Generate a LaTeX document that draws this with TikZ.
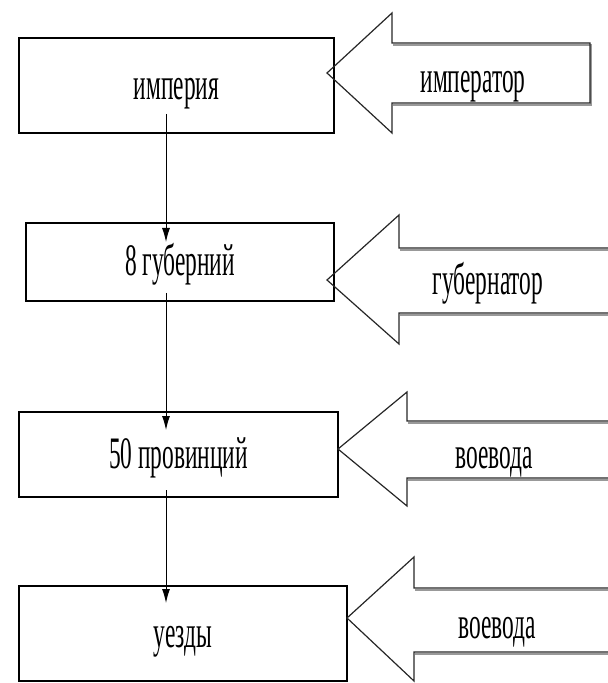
\documentclass[tikz,border=0pt]{standalone}
\usepackage{fontspec}
\setmainfont{Liberation Serif}[FakeStretch=0.52]
\usetikzlibrary{arrows.meta}

\tikzset{
  box/.style={draw, line width=0.9pt, inner sep=0pt, outer sep=0pt,
    text height=14pt, text depth=0pt},
  flow/.style={line width=0.5pt, -{Latex[length=7pt,width=4pt]}},
  bigarrow/.style={draw=black!85, line width=0.6pt},
  arrowshadow/.style={draw=black!40, line width=0.9pt, xshift=0.6pt, yshift=-0.9pt},
  official/.style={anchor=base, inner sep=0pt},
}

\begin{document}
\begin{tikzpicture}[x=0.5pt, y=-0.5pt, font=\fontsize{22.5}{27}\selectfont]
  \def\u{0.5pt}
  \useasboundingbox (0,0) rectangle (608,683);
  % level 1
  \node[box, minimum width=315*\u, minimum height=95*\u] (imperia) at (176.5,85.5) {империя};
  \draw[arrowshadow] (392,43) -- (590,43) -- (590,103) -- (392,103);
  \draw[bigarrow] (590,43) -- (392,43) -- (392,13) -- (327,73) -- (392,133) -- (392,103) -- (590,103) -- cycle;
  \node[official] (imperator) at (473,93) {император};
  % level 2
  \node[box, minimum width=308*\u, minimum height=78*\u] (gubernii) at (180,262) {8 губерний};
  \draw[arrowshadow] (399,248) -- (612,248) (399,313) -- (612,313);
  \draw[bigarrow] (612,248) -- (399,248) -- (399,215) -- (327,280) -- (399,344) -- (399,313) -- (612,313);
  \node[official] (gubernator) at (488,295) {губернатор};
  % level 3
  \node[box, minimum width=319*\u, minimum height=85*\u] (provincii) at (178.5,454.5) {50 провинций};
  \draw[arrowshadow] (407,421) -- (612,421) (407,478) -- (612,478);
  \draw[bigarrow] (612,421) -- (407,421) -- (407,392) -- (338,449) -- (407,506) -- (407,478) -- (612,478);
  \node[official] (voevoda3) at (494,468) {воевода};
  % level 4
  \node[box, minimum width=328*\u, minimum height=95*\u] (uezdy) at (183,633.5) {уезды};
  \draw[arrowshadow] (414,588) -- (612,588) (414,652) -- (612,652);
  \draw[bigarrow] (612,588) -- (414,588) -- (414,557) -- (347,618) -- (414,681) -- (414,652) -- (612,652);
  \node[official] (voevoda4) at (497,638) {воевода};
  % connectors
  \coordinate (o1) at (166,114);
  \coordinate (i2) at (166,242);
  \coordinate (o2) at (166,293);
  \coordinate (i3) at (166,430);
  \coordinate (o3) at (166,490);
  \coordinate (i4) at (166,603);
  \draw[flow] (o1) -- (i2);
  \draw[flow] (o2) -- (i3);
  \draw[flow] (o3) -- (i4);
\end{tikzpicture}
\end{document}
